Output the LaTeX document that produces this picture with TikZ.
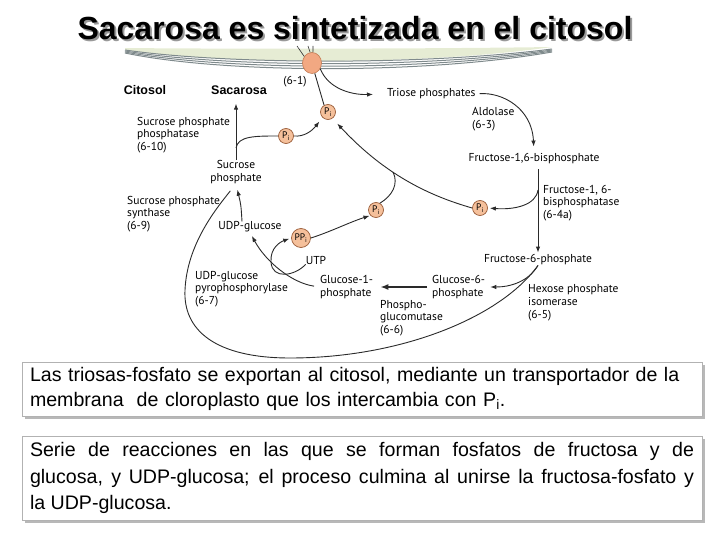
\documentclass[tikz,border=0pt]{standalone}
\usepackage{fontspec}
\setmainfont{Liberation Sans}
\newfontfamily\diagfont{PT Sans}
\usetikzlibrary{positioning,arrows.meta,calc,shapes.geometric}

% ---- palette ----
\definecolor{cPi}{HTML}{F5C09B}
\definecolor{cPiEdge}{HTML}{9A5C38}
\definecolor{cPort}{HTML}{F2A882}
\definecolor{cPortEdge}{HTML}{C27A52}
\definecolor{cMemb}{HTML}{E6ECD4}
\definecolor{cMembLine}{HTML}{7F8A8C}
\definecolor{cLine}{HTML}{2A2A2A}
\definecolor{cShade}{HTML}{B8B8B8}

\newcommand{\Pin}{P\textsubscript{i}}
\newcommand{\PPin}{PP\textsubscript{i}}

\begin{document}
\begin{tikzpicture}[x=1pt, y=-1pt,
  font=\diagfont\fontsize{11.5}{12.8}\selectfont,
  lbl/.style={inner sep=0pt, align=left, anchor=west},
  lblc/.style={inner sep=0pt, align=center},
  hdr/.style={inner sep=0pt, font=\rmfamily\bfseries\fontsize{12.5}{14}\selectfont},
  phos/.style={circle, draw=cPiEdge, fill=cPi, line width=0.7pt, inner sep=0pt,
    minimum size=#1, font=\diagfont\fontsize{9.5}{10}\selectfont},
  phos/.default=15pt,
  port/.style={ellipse, draw=cPortEdge, fill=cPort, line width=0.6pt,
    minimum width=19pt, minimum height=21pt, inner sep=0pt},
  rxn/.style={-{Latex[length=6pt,width=4.5pt]}, line width=0.9pt, draw=cLine},
  link/.style={line width=0.9pt, draw=cLine},
  memb/.style={draw=cMembLine, line width=1pt},
  txtbox/.style={draw=black!30, fill=white, line width=0.5pt, inner xsep=8pt,
    text width=664pt}
]
\useasboundingbox (0,0) rectangle (720,540);

% ================= membrane =================
\fill[cMemb] (125,48) .. controls (220,49) and (420,49) .. (552,47)
  .. controls (420,66) and (220,64) .. (125,50) -- cycle;
\draw[memb] (125,50) .. controls (220,64) and (420,66) .. (552,49);
\draw[memb] (125,51) .. controls (220,67) and (420,69) .. (552,50);
\draw[memb] (125,52) .. controls (220,70) and (420,72) .. (552,51);
\draw[memb] (125,53) .. controls (220,73) and (420,75) .. (552,52);

% ================= title =================
\node[anchor=base, text=black!40, font=\rmfamily\bfseries\fontsize{32}{36}\selectfont]
  (titleshd) at (357,42) {Sacarosa es sintetizada en el citosol};
\node[anchor=base, font=\rmfamily\bfseries\fontsize{32}{36}\selectfont]
  (title) at (355,40) {Sacarosa es sintetizada en el citosol};

% ================= transporter =================
\node[port] (port) at (312,63) {};
\coordinate (portin) at (297,46);
\coordinate (st1) at (308,46);
\coordinate (st2) at (313,46);
\draw[link, line width=0.6pt] (portin) -- (port.140);
\draw[link, line width=0.6pt] (st1) -- (port.100);
\draw[link, line width=0.6pt] (st2) -- (port.85);
\node[lblc] (e61) at (295,82) {(6-1)};

% ================= cytosol headers =================
\node[hdr] (cito) at (145,90) {Citosol};
\node[hdr] (sacar) at (239,90) {Sacarosa};

% ================= triose -> fructose phosphates =================
\node[phos] (pi1) at (328,112) {\Pin};
\draw[link] (pi1.120) -- (port.-75);
\node[lbl] (triose) at (387,94) {Triose phosphates};
\draw[rxn, shorten >=14pt] (port.-35) .. controls (328,88) and (350,95) .. (triose.west);

\node[lbl] (aldo) at (472,119) {Aldolase\\(6-3)};
\node[lblc] (f16bp) at (534,159) {Fructose-1,6-bisphosphate};
\draw[rxn, shorten <=4pt, shorten >=7pt] (triose.east) .. controls (502,92) and (532,108) .. (f16bp.north);

\node[lblc] (f6p) at (538,260) {Fructose-6-phosphate};
\draw[rxn, shorten <=5pt, shorten >=2pt] (f6p.north |- f16bp.south) -- (f6p.north);
\node[lbl] (bpase) at (543,203) {Fructose-1, 6-\\bisphosphatase\\(6-4a)};

\node[phos] (pi3) at (480,208) {\Pin};
\coordinate (bpfork) at (538,190);
\draw[rxn, shorten >=2pt] (bpfork) .. controls (536,205) and (515,210) .. (pi3.east);

% ================= Pi return to the transporter =================
\node[phos] (pi4) at (376,210) {\Pin};
\draw[rxn, shorten >=7pt] (pi3.west) .. controls (430,196) and (385,175) .. (pi1.-55);
\coordinate (jn) at (393,172);
\draw[link] (pi4.60) .. controls (392,196) and (399,184) .. (jn);

% ================= sucrose side =================
\node[lblc] (sucp) at (236,172) {Sucrose\\phosphate};
\draw[rxn, shorten >=9pt] (sucp.north) -- (sucp.north |- sacar.south);
\node[lbl] (sppase) at (137,135) {Sucrose phosphate\\phosphatase\\(6-10)};

\node[phos] (pi2) at (286,136) {\Pin};
\coordinate (spfork) at (236,148);
\draw[link] (spfork) .. controls (238,136) and (255,136) .. (pi2.west);
\draw[rxn, shorten >=5pt] (pi2.east) .. controls (304,137) and (312,131) .. (pi1.-135);

\node[lbl] (spsyn) at (127,214) {Sucrose phosphate\\synthase\\(6-9)};
\node[lblc] (udpg) at (250,227) {UDP-glucose};
\draw[rxn, shorten >=6pt] ([xshift=-8pt]udpg.north) .. controls (241,205) .. (sucp.south);

% ================= glucose phosphates =================
\node[lbl] (pyro) at (195,289) {UDP-glucose\\pyrophosphorylase\\(6-7)};
\node[lbl] (g1p) at (320,287) {Glucose-1-\\phosphate};
\node[lblc] (utp) at (316,260) {UTP};
\node[phos=19pt] (ppi) at (301,238) {\PPin};

\draw[rxn, shorten <=6pt, shorten >=4pt] (g1p.west) .. controls (292,283) and (266,262) .. (udpg.south);
\draw[rxn, shorten >=2pt] (utp.south west) .. controls (295,276) and (272,280) .. (271,262)
  .. controls (270,248) and (280,242) .. (ppi.west);
\draw[rxn, shorten >=1pt] (ppi.east) .. controls (330,232) and (350,222) .. (pi4.south west);

\node[lbl] (g6p) at (432,287) {Glucose-6-\\phosphate};
\draw[-{Latex[length=8pt,width=6pt]}, line width=1.5pt, draw=cLine,
  shorten <=5pt, shorten >=7pt] (g6p.west) -- (g1p.east);
\node[lbl] (pmut) at (380,318) {Phospho-\\glucomutase\\(6-6)};
\node[lbl] (hexo) at (528,303) {Hexose phosphate\\isomerase\\(6-5)};

\draw[rxn, shorten >=5pt] (f6p.south) .. controls (528,282) and (510,287) .. (g6p.east);

% ================= fructose-6-phosphate back to sucrose phosphate =================
\draw[link, shorten >=9pt] (f6p.south) .. controls (500,318) and (400,358) .. (290,358)
  .. controls (215,358) and (183,330) .. (185,290)
  .. controls (187,245) and (215,210) .. (sucp.south);

% ================= text boxes (shadow first, then box) =================
\fill[cShade] (25,365) rectangle (705,419);
\node[txtbox, minimum height=54pt, align=left, font=\rmfamily\fontsize{19.6}{25}\selectfont]
  (box1) at (362,389)
  {Las triosas-fosfato se exportan al citosol, mediante un transportador de la\\
   membrana\ \ de cloroplasto que los intercambia con \Pin.};
\fill[cShade] (25,439) rectangle (705,523);
\node[txtbox, minimum height=84pt, align=justify, font=\rmfamily\fontsize{19.6}{26.5}\selectfont]
  (box2) at (362,478)
  {Serie de reacciones en las que se forman fosfatos de fructosa y de\linebreak
   glucosa, y UDP-glucosa; el proceso culmina al unirse la fructosa-fosfato y\linebreak
   la UDP-glucosa.};

\end{tikzpicture}
\end{document}
